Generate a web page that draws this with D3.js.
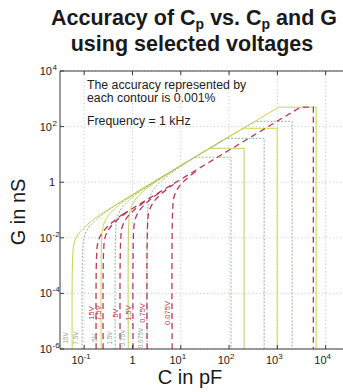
<!DOCTYPE html>
<html>
<head>
<meta charset="utf-8">
<script src="https://cdn.jsdelivr.net/npm/d3@7"></script>
<style>
  html, body { margin: 0; padding: 0; background: #fff; }
  svg { display: block; font-family: "Liberation Sans", Arial, sans-serif; }
</style>
</head>
<body>
<svg id="chart" width="343" height="392"></svg>
<script>
// Axis ticks
const xTicks = [0.1, 1, 10, 100, 1000, 10000];
const xTickExp = [-1, 0, 1, 2, 3, 4];
const yTicks = [1e-6, 1e-4, 1e-2, 1, 1e2, 1e4];
const yTickExp = [-6, -4, -2, 0, 2, 4];

// Upper envelope lines of the two contour families, as [C (pF), G (nS)] end points
const greenEnvelope = [[0.01, 0.00333], [10000, 4950]];
const redEnvelope = [[0.01, 0.00116], [10000, 1720]];

// Shape of the rounded left edge of every contour: decades right of its foot C,
// and decades below the envelope at that C
const bendDx = [0, 0.01, 0.04, 0.13, 0.30, 0.55];
const bendDy = [-4, -1.0, -0.53, -0.29, -0.15, -0.07];

// Green contour family (one per voltage)
const greenVoltages = ["15V", "7.5V", "5V", "1.5V", "0.75V", "0.075V"];
const greenLeftC = [0.0565, 0.091, 0.225, 0.44, 0.82, 2.02];
const greenTopG = [500, 155, 87, 38, 16.6, 7.9];
const greenRightC = [6350, 2020, 990, 533, 205, 110];
const greenColors = ["#c8d44e", "#93b98f", "#d2d64a", "#8fb39a", "#bfd160", "#9dbd86"];

// Red contour family (one per voltage), sharing one top and right edge
const redVoltages = ["15V", "7.5V", "5V", "1.5V", "0.75V", "0.075V"];
const redLeftC = [0.177, 0.247, 0.556, 1.03, 2.01, 6.64];
const redTopG = 500;
const redRightC = 5560;

const svg = d3.select("#chart");

const x = d3.scaleLog().domain([Math.pow(10, -1.5), Math.pow(10, 4.5)]).range([60, 349.8]);
const y = d3.scaleLog().domain([1e-6, 1e4]).range([349, 71]);

// Title
const title = svg.append("g").attr("font-weight", "bold").attr("fill", "#1a1a1a")
  .attr("text-anchor", "middle");
const t1 = title.append("text").attr("x", 194).attr("y", 25).attr("font-size", 21.5);
t1.append("tspan").text("Accuracy of C");
t1.append("tspan").attr("font-size", 14).attr("dy", 3.5).text("p");
t1.append("tspan").attr("dy", -3.5).text(" vs. C");
t1.append("tspan").attr("font-size", 14).attr("dy", 3.5).text("p");
t1.append("tspan").attr("dy", -3.5).text(" and G");
title.append("text").attr("x", 192).attr("y", 51).attr("font-size", 21.5)
  .text("using selected voltages");

// Grid
const grid = svg.append("g").attr("stroke", "#b8b8b8").attr("stroke-width", 0.8)
  .attr("stroke-dasharray", "1,2.5");
xTicks.forEach(v => grid.append("line")
  .attr("x1", x(v)).attr("x2", x(v)).attr("y1", y(1e-6)).attr("y2", y(1e4)));
yTicks.forEach(v => grid.append("line")
  .attr("x1", 60).attr("x2", 343).attr("y1", y(v)).attr("y2", y(v)));

// Contour geometry in log10 units
function envSlope(env) {
  return (Math.log10(env[1][1]) - Math.log10(env[0][1])) /
         (Math.log10(env[1][0]) - Math.log10(env[0][0]));
}
function envLog(env, lc) {
  return Math.log10(env[0][1]) + envSlope(env) * (lc - Math.log10(env[0][0]));
}
function envInverse(env, lg) {
  return Math.log10(env[0][0]) + (lg - Math.log10(env[0][1])) / envSlope(env);
}
function bendPoints(env, leftC, lt) {
  const lc = Math.log10(leftC);
  return bendDx.map((dx, i) => {
    const px = lc + dx;
    return [px, i === 0 ? -6 : Math.min(envLog(env, px) + bendDy[i], lt)];
  });
}
const logLine = d3.line()
  .x(d => x(Math.pow(10, d[0])))
  .y(d => y(Math.pow(10, d[1])))
  .curve(d3.curveCatmullRom.alpha(0.5));
const P = d => [x(Math.pow(10, d[0])), y(Math.pow(10, d[1]))];

// Green contours: left bend, envelope up to its own top, top edge, right edge
const greenG = svg.append("g").attr("fill", "none");
greenLeftC.forEach((lc, i) => {
  const lt = Math.log10(greenTopG[i]);
  const top = [envInverse(greenEnvelope, lt), lt];
  const pts = bendPoints(greenEnvelope, lc, lt).filter(p => p[0] < top[0]);
  let d = logLine(pts.concat([top]));
  const r = Math.log10(greenRightC[i]);
  d += "L" + P([r, lt]) + "L" + P([r, -6]);
  greenG.append("path").attr("d", d)
    .attr("stroke", greenColors[i]).attr("stroke-width", 1)
    .attr("stroke-dasharray", i % 2 ? "2,1.5" : null);
});

// Red contours: separate left bends, one shared envelope, top and right edge
const redG = svg.append("g").attr("fill", "none").attr("stroke", "#b7395a")
  .attr("stroke-width", 1.3).attr("stroke-dasharray", "6,4");
const redTopL = Math.log10(redTopG);
redLeftC.forEach(lc => {
  redG.append("path").attr("d", logLine(bendPoints(redEnvelope, lc, redTopL)));
});
{
  const startC = Math.log10(redLeftC[0]) + bendDx[bendDx.length - 1];
  const topC = envInverse(redEnvelope, redTopL);
  const rc = Math.log10(redRightC);
  const start = [startC, envLog(redEnvelope, startC) + bendDy[bendDy.length - 1]];
  redG.append("path").attr("d",
    "M" + P(start) + "L" + P([topC, redTopL]) + "L" + P([rc, redTopL]) + "L" + P([rc, -6]));
}

// Voltage labels at the foot of each contour
greenVoltages.forEach((v, i) => {
  const cx = x(greenLeftC[i]) - 6;
  svg.append("text").attr("transform", `translate(${cx},338) rotate(-90)`)
    .attr("text-anchor", "middle").attr("dy", "0.35em")
    .attr("font-size", 6.5).attr("fill", "#8ea897").text(v);
});
redVoltages.forEach((v, i) => {
  const cx = x(redLeftC[i]) - 5;
  svg.append("text").attr("transform", `translate(${cx},313) rotate(-90)`)
    .attr("text-anchor", "middle").attr("dy", "0.35em")
    .attr("font-size", 7.5).attr("fill", "#b3304f").text(v);
});

// Axes frame
const frame = svg.append("g").attr("stroke", "#3a3a3a").attr("stroke-width", 1);
frame.append("line").attr("x1", 60).attr("x2", 60).attr("y1", 71).attr("y2", 349);
frame.append("line").attr("x1", 60).attr("x2", 343).attr("y1", 349).attr("y2", 349);
frame.append("line").attr("x1", 60).attr("x2", 343).attr("y1", 71).attr("y2", 71);
xTicks.forEach(v => {
  frame.append("line").attr("x1", x(v)).attr("x2", x(v)).attr("y1", 349).attr("y2", 345);
  frame.append("line").attr("x1", x(v)).attr("x2", x(v)).attr("y1", 71).attr("y2", 75);
});
yTicks.forEach(v => frame.append("line").attr("x1", 60).attr("x2", 64)
  .attr("y1", y(v)).attr("y2", y(v)));

// Tick labels
xTickExp.forEach((e, i) => {
  const t = svg.append("text").attr("x", x(xTicks[i]) - (e === 0 ? 0 : 3)).attr("y", 364)
    .attr("text-anchor", "middle").attr("font-size", 11).attr("fill", "#222");
  if (e === 0) t.text("1");
  else {
    t.append("tspan").text("10");
    t.append("tspan").attr("dy", -5).attr("font-size", 8).text(e);
  }
});
yTickExp.forEach((e, i) => {
  const t = svg.append("text").attr("x", e === 0 ? 55 : 52).attr("y", y(yTicks[i]) + 4)
    .attr("text-anchor", "end").attr("font-size", 11).attr("fill", "#222");
  if (e === 0) t.text("1");
  else {
    t.text("10");
    svg.append("text").attr("x", 52.5).attr("y", y(yTicks[i]) - 1)
      .attr("font-size", 8).attr("fill", "#222").text(e);
  }
});

// Axis titles
svg.append("text").attr("x", 190).attr("y", 384).attr("text-anchor", "middle")
  .attr("font-size", 20).attr("fill", "#1a1a1a").text("C in pF");
svg.append("text").attr("transform", "translate(25,212) rotate(-90)")
  .attr("text-anchor", "middle").attr("font-size", 20).attr("fill", "#1a1a1a").text("G in nS");

// Notes
const notes = svg.append("g").attr("font-size", 12.3).attr("fill", "#222");
notes.append("text").attr("x", 87).attr("y", 89).text("The accuracy represented by");
notes.append("text").attr("x", 87).attr("y", 102).text("each contour is 0.001%");
notes.append("text").attr("x", 87).attr("y", 125).text("Frequency = 1 kHz");
</script>
</body>
</html>
